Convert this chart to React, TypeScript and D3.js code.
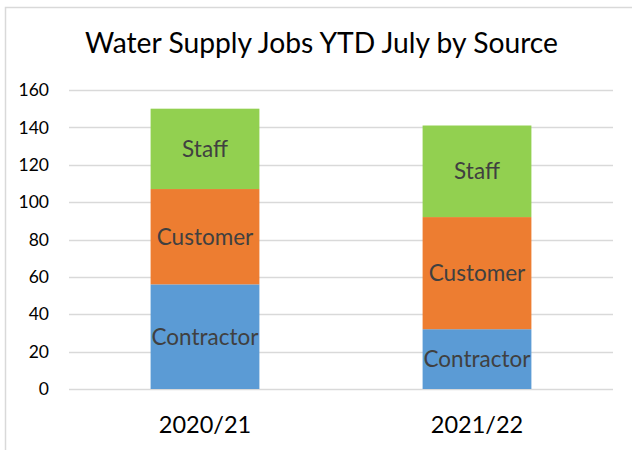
import React from "react";
import * as d3 from "d3";

const categories = ["2020/21", "2021/22"];
const seriesNames = ["Contractor", "Customer", "Staff"];
const contractor = [56, 32];
const customer = [51, 60];
const staff = [43, 49];
const yTicks = [0, 20, 40, 60, 80, 100, 120, 140, 160];
const colors = ["#5B9BD5", "#ED7D31", "#92D050"];
const title = "Water Supply Jobs YTD July by Source";

const W = 632, H = 450;
const FONT = "Lato, 'Open Sans', sans-serif";

export default function App() {
  const x = d3.scaleBand<string>().domain(categories).range([69, 613]).paddingInner(0.6).paddingOuter(0.3);
  const y = d3.scaleLinear().domain([0, 160]).range([389, 90]);
  const rows = categories.map((c, i) => ({ cat: c, Contractor: contractor[i], Customer: customer[i], Staff: staff[i] }));
  const stacked = d3.stack<any>().keys(seriesNames)(rows);

  return (
    <div style={{ position: "absolute", left: 0, top: 0, width: W, height: H, background: "#fff" }}>
      <svg width={W} height={H} style={{ display: "block" }}>
        <rect x={0} y={0} width={W} height={H} fill="#fff" />
        <rect x={5.5} y={7.5} width={W + 10} height={H + 10} fill="none" stroke="#D9D9D9" strokeWidth={1.5} />
        <text x={321.5} y={53} textAnchor="middle" fontFamily={FONT} fontSize={28} fill="#000" textLength={473} lengthAdjust="spacingAndGlyphs">{title}</text>
        {yTicks.map((t) => (
          <g key={t}>
            <line x1={69} x2={613} y1={Math.round(y(t)) + 0.5} y2={Math.round(y(t)) + 0.5} stroke="#D9D9D9" strokeWidth={1.5} />
            <text x={49} y={y(t)} dy="0.35em" textAnchor="end" fontFamily={FONT} fontSize={17.5} fill="#000">{t}</text>
          </g>
        ))}
        {stacked.map((s, si) => (
          <g key={s.key}>
            {s.map((d, i) => {
              const x0 = x(categories[i])!;
              const bw = x.bandwidth();
              const top = y(d[1]);
              const bot = y(d[0]);
              return (
                <g key={i}>
                  <rect x={x0} y={top} width={bw} height={bot - top} fill={colors[si]} />
                  <text x={x0 + bw / 2} y={(top + bot) / 2} dy="0.35em" textAnchor="middle" fontFamily={FONT} fontSize={22.5} fill="#404040">{s.key}</text>
                </g>
              );
            })}
          </g>
        ))}
        {categories.map((c) => (
          <text key={c} x={x(c)! + x.bandwidth() / 2} y={433} textAnchor="middle" fontFamily={FONT} fontSize={23.5} fill="#000">{c}</text>
        ))}
      </svg>
    </div>
  );
}
